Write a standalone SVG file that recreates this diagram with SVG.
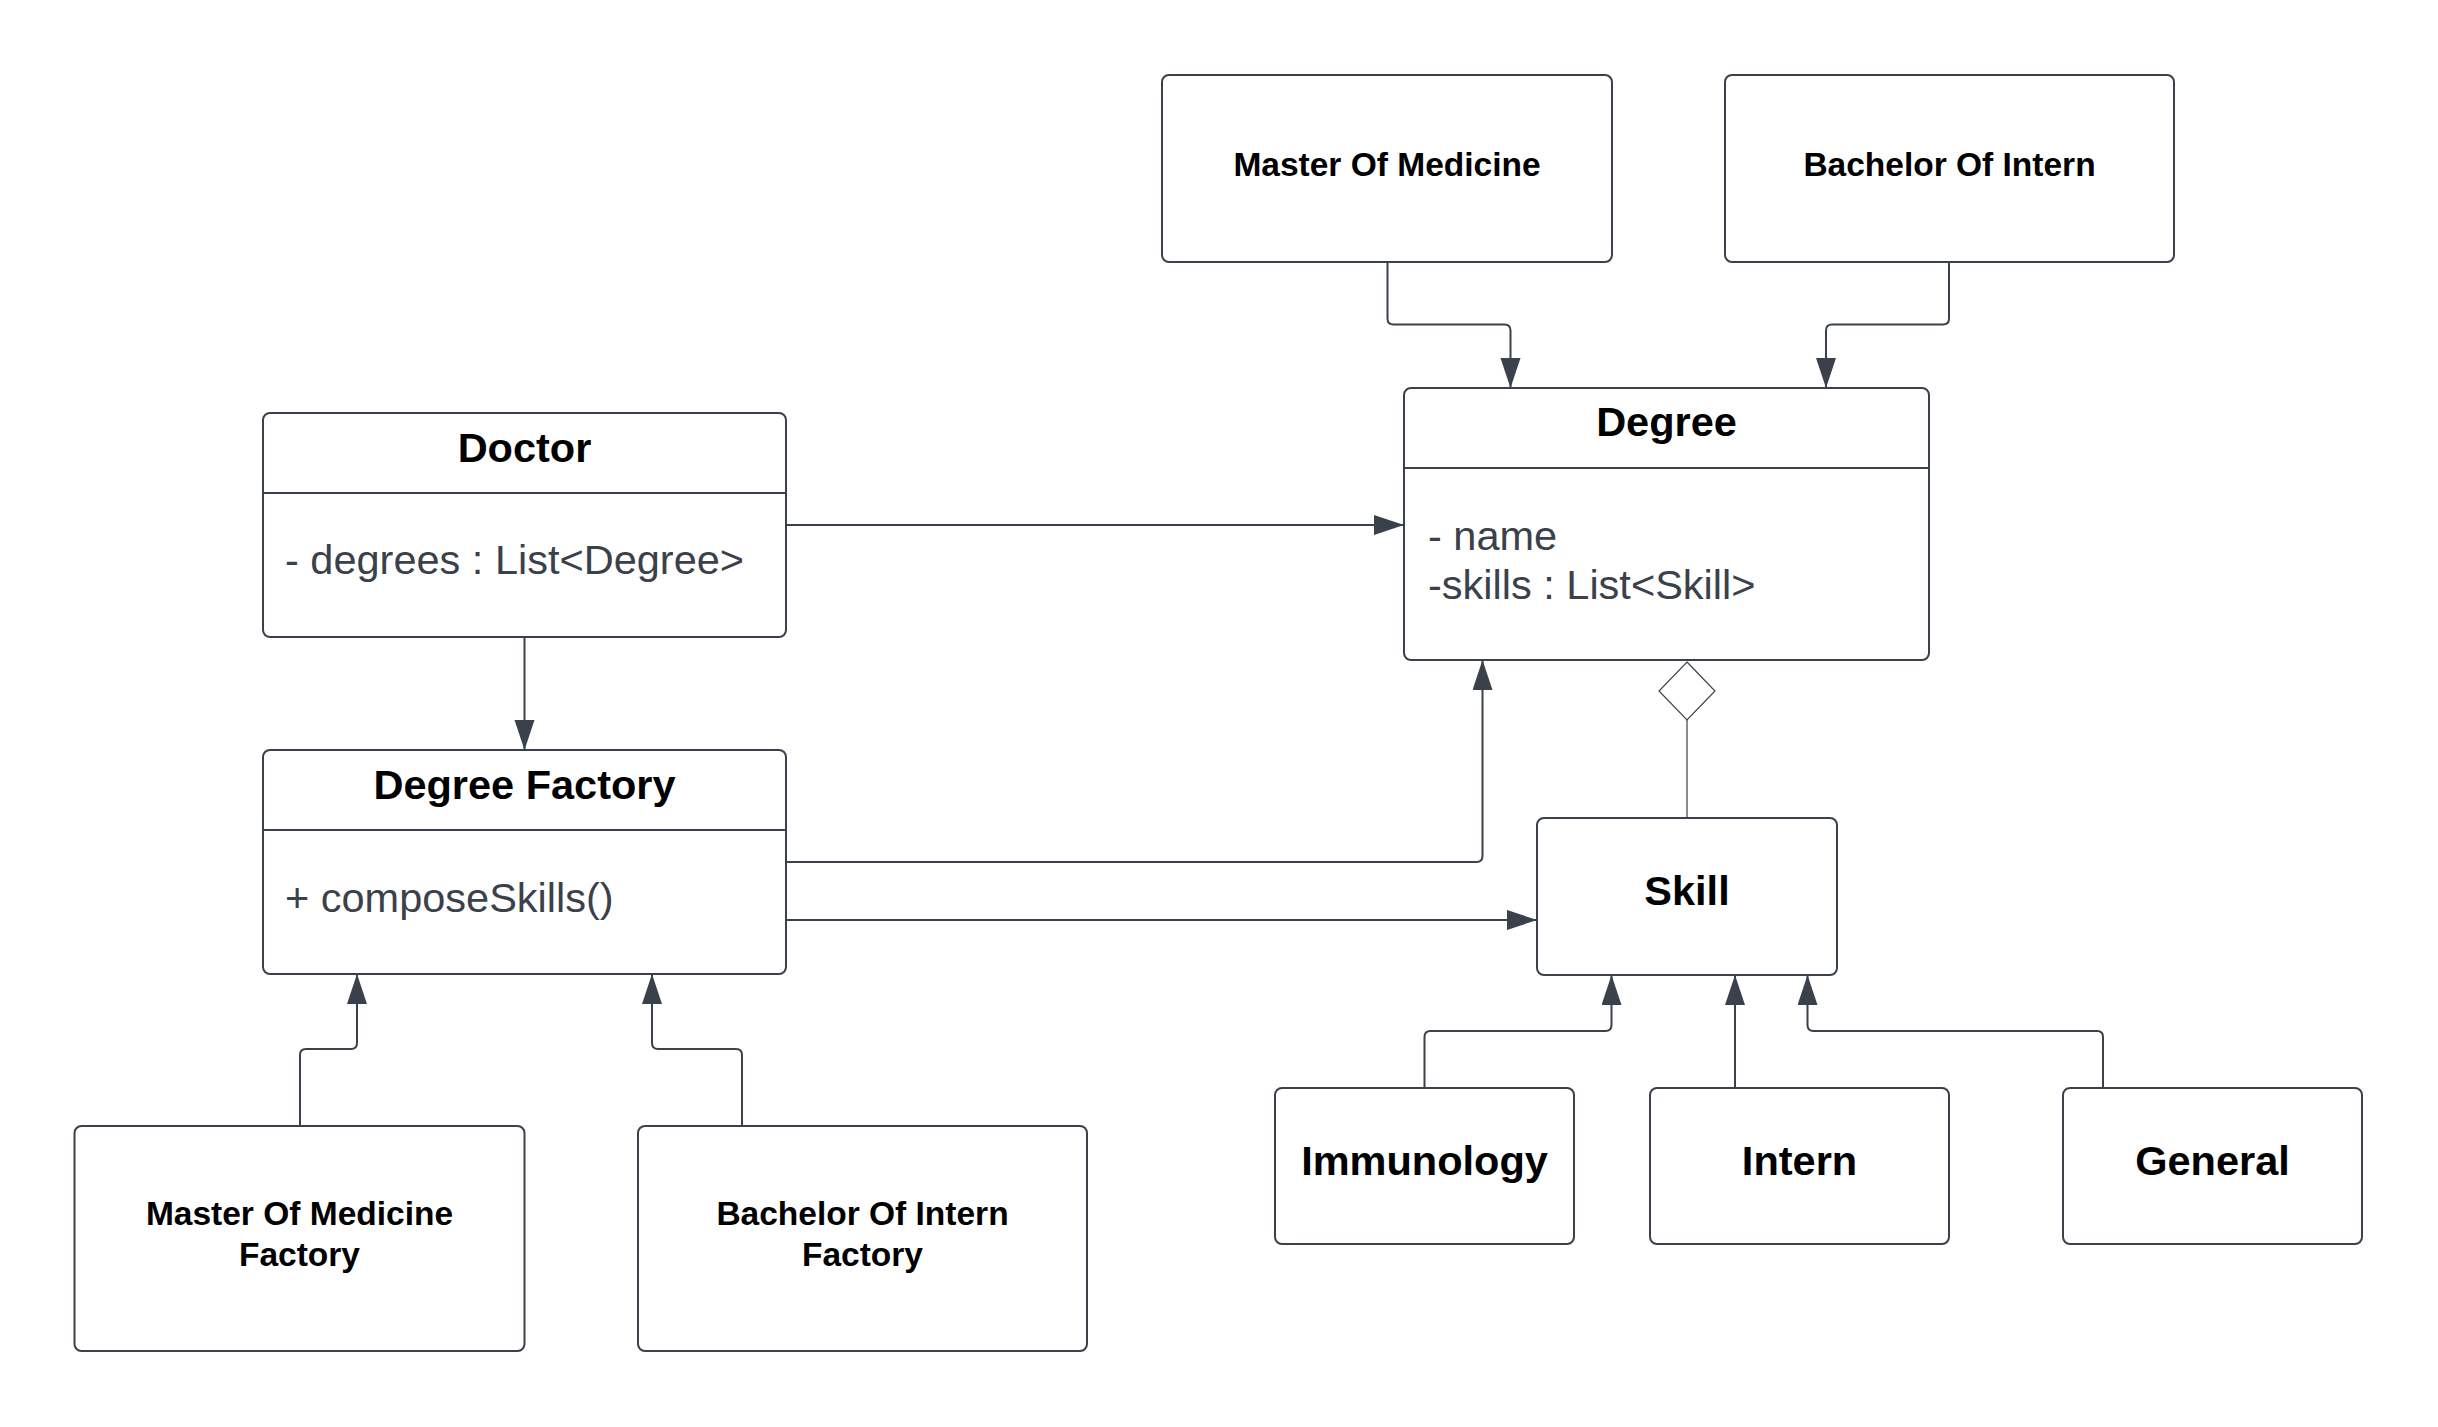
<svg xmlns="http://www.w3.org/2000/svg" width="2438" height="1427" viewBox="0 0 2438 1427">
<defs>
<style>
.box{fill:#ffffff;stroke:#3a414a;stroke-width:2}
.div{stroke:#3a414a;stroke-width:2}
.t{font-family:"Liberation Sans",Arial,sans-serif;font-weight:bold;fill:#000000;text-anchor:middle}
.big{font-size:41.5px}
.sm{font-size:33.5px}
.attr{font-family:"Liberation Sans",Arial,sans-serif;font-size:41.5px;fill:#3a414a}
.c{fill:none;stroke:#3a414a;stroke-width:2}
.thin{fill:none;stroke:#3a414a;stroke-width:1.2}
</style>
<marker id="arr" markerUnits="userSpaceOnUse" markerWidth="31" markerHeight="21" refX="30" refY="10" orient="auto">
<path d="M0,0 L30,10 L0,20 Z" fill="#3a414a"/>
</marker>
</defs>
<rect width="2438" height="1427" fill="#ffffff"/>

<g id="connectors">
<path class="c" d="M524.5,637 V750" marker-end="url(#arr)"/>
<path class="c" d="M786,525 H1404" marker-end="url(#arr)"/>
<path class="c" d="M786,862 H1476.5 Q1482.5,862 1482.5,856 V660" marker-end="url(#arr)"/>
<path class="c" d="M786,920 H1537" marker-end="url(#arr)"/>
<path class="c" d="M1387.5,262 V318.5 Q1387.5,324.5 1393.5,324.5 H1504.5 Q1510.5,324.5 1510.5,330.5 V388" marker-end="url(#arr)"/>
<path class="c" d="M1949,262 V318.5 Q1949,324.5 1943,324.5 H1832 Q1826,324.5 1826,330.5 V388" marker-end="url(#arr)"/>
<path class="thin" d="M1687,720 V818"/>
<polygon class="thin" points="1687,662 1715,691 1687,720 1659,691" style="fill:#ffffff"/>
<path class="c" d="M1424.5,1088 V1037 Q1424.5,1031 1430.5,1031 H1605.5 Q1611.5,1031 1611.5,1025 V975" marker-end="url(#arr)"/>
<path class="c" d="M1735,1088 V975" marker-end="url(#arr)"/>
<path class="c" d="M2103,1088 V1037 Q2103,1031 2097,1031 H1813.5 Q1807.5,1031 1807.5,1025 V975" marker-end="url(#arr)"/>
<path class="c" d="M300,1126 V1055 Q300,1049 306,1049 H351 Q357,1049 357,1043 V974" marker-end="url(#arr)"/>
<path class="c" d="M742,1126 V1055 Q742,1049 736,1049 H658 Q652,1049 652,1043 V974" marker-end="url(#arr)"/>
</g>

<g id="doctor">
<rect class="box" x="263" y="413" width="523" height="224" rx="7"/>
<line class="div" x1="263" y1="493" x2="786" y2="493"/>
<text class="t big" x="524.5" y="462">Doctor</text>
<text class="attr" x="285" y="573.5">- degrees : List&lt;Degree&gt;</text>
</g>

<g id="degree-factory">
<rect class="box" x="263" y="750" width="523" height="224" rx="7"/>
<line class="div" x1="263" y1="830" x2="786" y2="830"/>
<text class="t big" x="524.5" y="799">Degree Factory</text>
<text class="attr" x="285" y="911.5">+ composeSkills()</text>
</g>

<g id="degree">
<rect class="box" x="1404" y="388" width="525" height="272" rx="7"/>
<line class="div" x1="1404" y1="468" x2="1929" y2="468"/>
<text class="t big" x="1666.5" y="436">Degree</text>
<text class="attr" x="1428" y="549.5">- name</text>
<text class="attr" x="1428" y="598.5">-skills : List&lt;Skill&gt;</text>
</g>

<g id="master-of-medicine">
<rect class="box" x="1162" y="75" width="450" height="187" rx="7"/>
<text class="t sm" x="1387" y="176">Master Of Medicine</text>
</g>

<g id="bachelor-of-intern">
<rect class="box" x="1725" y="75" width="449" height="187" rx="7"/>
<text class="t sm" x="1949.5" y="176">Bachelor Of Intern</text>
</g>

<g id="skill">
<rect class="box" x="1537" y="818" width="300" height="157" rx="7"/>
<text class="t big" x="1687" y="904.5">Skill</text>
</g>

<g id="immunology">
<rect class="box" x="1275" y="1088" width="299" height="156" rx="7"/>
<text class="t big" x="1424.5" y="1174.5">Immunology</text>
</g>

<g id="intern">
<rect class="box" x="1650" y="1088" width="299" height="156" rx="7"/>
<text class="t big" x="1799.5" y="1174.5">Intern</text>
</g>

<g id="general">
<rect class="box" x="2063" y="1088" width="299" height="156" rx="7"/>
<text class="t big" x="2212.5" y="1174.5">General</text>
</g>

<g id="master-of-medicine-factory">
<rect class="box" x="74.5" y="1126" width="450" height="225" rx="7"/>
<text class="t sm" x="299.5" y="1225">Master Of Medicine</text>
<text class="t sm" x="299.5" y="1266">Factory</text>
</g>

<g id="bachelor-of-intern-factory">
<rect class="box" x="638" y="1126" width="449" height="225" rx="7"/>
<text class="t sm" x="862.5" y="1225">Bachelor Of Intern</text>
<text class="t sm" x="862.5" y="1266">Factory</text>
</g>
</svg>
